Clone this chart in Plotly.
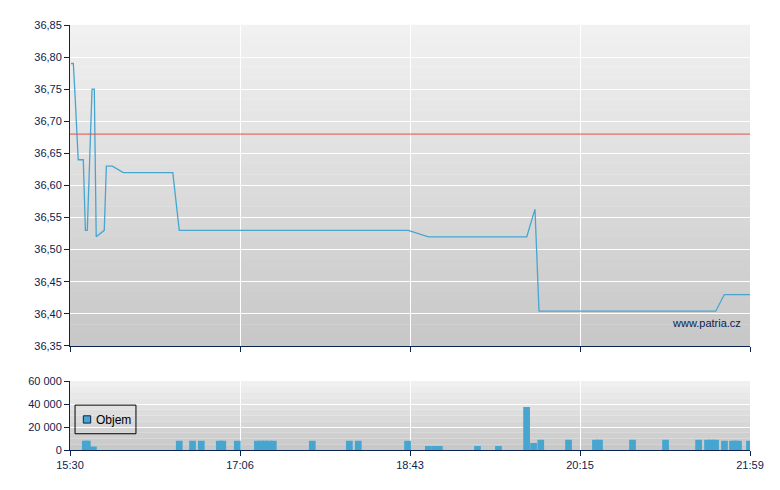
import plotly.graph_objects as go
from plotly.subplots import make_subplots

# time as minutes after 15:30 (session ends 21:59 -> 389)
price_min = [0.6, 1.9, 2.9, 4.7, 7.6, 8.8, 9.9, 12.6, 13.9, 15.0, 19.6, 20.8, 24.2,
             30.5, 58.8, 62.5, 193.5, 205.0, 261.3, 266.0, 268.3, 369.4, 374.3, 389.0]
price = [36.79, 36.79, 36.74, 36.64, 36.64, 36.53, 36.53, 36.75, 36.75, 36.52, 36.53, 36.63, 36.63,
         36.62, 36.62, 36.53, 36.53, 36.52, 36.52, 36.563, 36.404, 36.404, 36.43, 36.43]
ref_price = 36.68

vol_min = [8.75, 9.9, 13.4, 62.5, 70.1, 75.1, 85.4, 87.4, 95.7, 107.2, 109.3, 111.6, 113.8, 116.3,
           138.6, 159.8, 164.9, 193.1, 205.0, 208.8, 211.3, 233.1, 245.1, 261.2, 265.2, 269.3,
           285.2, 300.6, 302.9, 321.8, 340.7, 359.6, 364.7, 367.0, 369.3, 374.4, 379.0, 380.7,
           382.4, 388.7]
volume = [8000, 8000, 3000, 8000, 8000, 8000, 8000, 8000, 8000, 8000, 8000, 8000, 8000, 8000,
          8000, 8000, 8000, 8000, 3500, 3500, 3500, 3500, 3500, 37500, 6000, 9000,
          9000, 9000, 9000, 9000, 9000, 9000, 9000, 9000, 9000, 8000, 8000, 8000,
          8000, 8000]

tick_pos = [0, 97.25, 194.5, 291.75, 389]
tick_text = ["15:30", "17:06", "18:43", "20:15", "21:59"]

NAVY = "#0b2350"
BLUE = "#47a6d0"
FONT = "Liberation Sans"

fig = make_subplots(rows=2, cols=1, shared_xaxes=False, vertical_spacing=0.0)

fig.add_trace(go.Scatter(x=price_min, y=price, mode="lines", line=dict(color=BLUE, width=1.3),
                         showlegend=False, hoverinfo="skip"), row=1, col=1)
fig.add_hline(y=ref_price, line=dict(color="#e05050", width=1), row=1, col=1)

fig.add_trace(go.Bar(x=vol_min, y=volume, width=3.85, name="Objem", showlegend=False,
                     marker=dict(color=BLUE, line=dict(width=0))), row=2, col=1)

# gradient background bands
def bands(xref, yref, top, bottom, n=30):
    for i in range(n):
        c = int(top + (bottom - top) * i / (n - 1))
        fig.add_shape(type="rect", xref=xref, yref=yref, x0=0, x1=1,
                      y0=1 - (i + 1) / n, y1=1 - i / n + 0.001,
                      fillcolor=f"rgb({c},{c},{c})", line=dict(width=0), layer="below")

bands("x domain", "y domain", 241, 200)
bands("x2 domain", "y2 domain", 240, 200, n=12)

axis_common = dict(showline=True, linecolor=NAVY, linewidth=1, ticks="outside", ticklen=5,
                   tickcolor=NAVY, gridcolor="white", gridwidth=1, zeroline=False,
                   tickfont=dict(family=FONT, size=11, color=NAVY))

fig.update_xaxes(range=[0, 389], tickvals=tick_pos, ticktext=tick_text, **axis_common)
fig.update_xaxes(showticklabels=False, row=1, col=1)
fig.update_yaxes(range=[36.35, 36.85], dtick=0.05, tickformat=".2f", domain=[0.245, 1],
                 row=1, col=1, **axis_common)
fig.update_yaxes(range=[0, 60000], dtick=20000, tickformat=",d", domain=[0, 0.162],
                 row=2, col=1, **axis_common)
fig.update_xaxes(domain=[0, 1])

fig.add_annotation(xref="x domain", yref="y domain", x=0.99, y=0.072, xanchor="right",
                   yanchor="middle", text="www.patria.cz", showarrow=False,
                   font=dict(family=FONT, size=11, color=NAVY))

# legend box drawn by hand (compact like the original)
fig.add_shape(type="rect", xref="x2 domain", yref="y2 domain", x0=0.0074, x1=0.097,
              y0=0.236, y1=0.652, line=dict(color="black", width=1), fillcolor="rgba(0,0,0,0)")
fig.add_shape(type="rect", xref="x2 domain", yref="y2 domain", x0=0.0196, x1=0.0304,
              y0=0.391, y1=0.497, line=dict(color=NAVY, width=1), fillcolor=BLUE)
fig.add_annotation(xref="x2 domain", yref="y2 domain", x=0.036, y=0.44, xanchor="left",
                   yanchor="middle", text="Objem", showarrow=False,
                   font=dict(family=FONT, size=12, color="black"))

fig.update_layout(
    width=772, height=482,
    margin=dict(l=62, r=30, t=17, b=40),
    paper_bgcolor="white", plot_bgcolor="rgba(0,0,0,0)",
    separators=", ",
    barmode="overlay",
    showlegend=False,
)

fig.write_html("out.html")
